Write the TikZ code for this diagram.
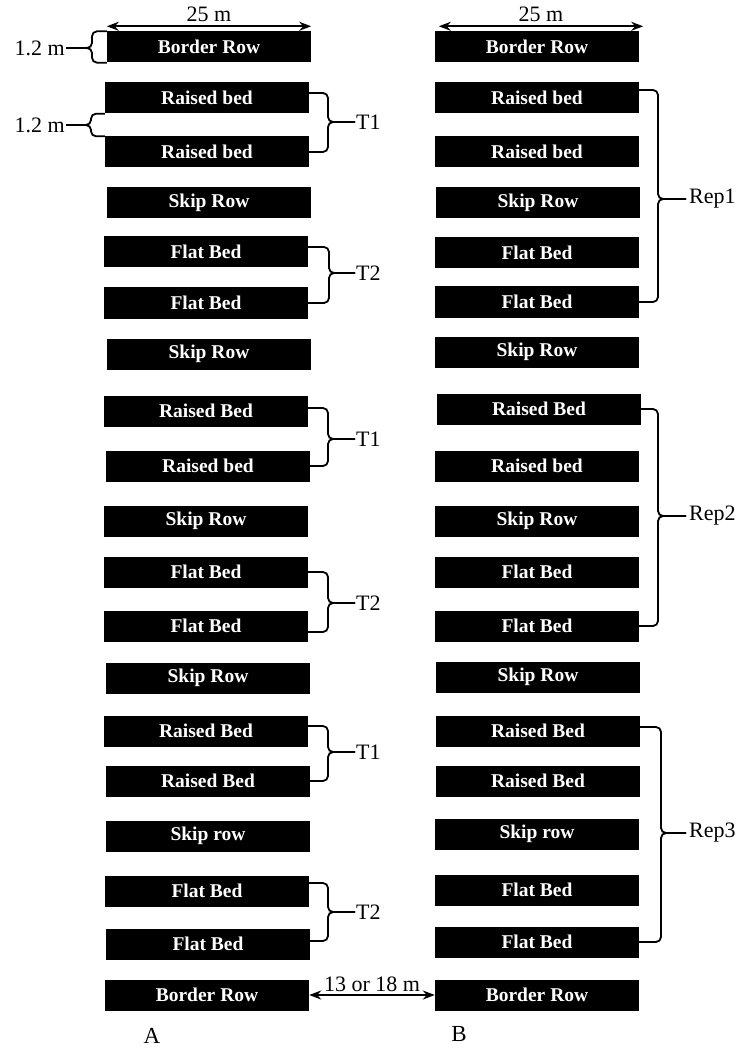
\documentclass[tikz,border=0pt]{standalone}
\usepackage{fontspec}
\setmainfont{Liberation Serif}
\usetikzlibrary{positioning,calc,arrows.meta}
\tikzset{
  row/.style ={rectangle, fill=black, text=white, minimum width=204pt, minimum height=31pt, inner sep=0pt, font=\fontsize{19.5}{22}\selectfont\bfseries},
  brc/.style ={draw=black, line width=1.8pt, rounded corners=5pt},
  dim/.style ={{Stealth[length=12pt,width=9pt]}-{Stealth[length=12pt,width=9pt]}, line width=1.8pt},
  lbl/.style ={font=\fontsize{22}{26}\selectfont, inner sep=1pt},
  side/.style={font=\fontsize{23}{27}\selectfont, inner sep=0pt},
}
\begin{document}
\begin{tikzpicture}[x=1pt,y=-1pt]
\useasboundingbox (0,0) rectangle (744,1048);
% layout A
\node[row] (l1)  at (209,47)  {Border Row};
\node[row] (l2)  at (207,98)  {Raised bed};
\node[row] (l3)  at (207,152) {Raised bed};
\node[row] (l4)  at (209,203) {Skip Row};
\node[row] (l5)  at (206,252) {Flat Bed};
\node[row] (l6)  at (206,303) {Flat Bed};
\node[row] (l7)  at (209,354) {Skip Row};
\node[row] (l8)  at (206,411) {Raised Bed};
\node[row] (l9)  at (208,466) {Raised bed};
\node[row] (l10) at (206,521) {Skip Row};
\node[row] (l11) at (206,572) {Flat Bed};
\node[row] (l12) at (206,626) {Flat Bed};
\node[row] (l13) at (208,678) {Skip Row};
\node[row] (l14) at (206,731) {Raised Bed};
\node[row] (l15) at (208,781) {Raised Bed};
\node[row] (l16) at (208,836) {Skip row};
\node[row] (l17) at (207,891) {Flat Bed};
\node[row] (l18) at (208,944) {Flat Bed};
\node[row] (l19) at (207,995) {Border Row};
% layout B
\node[row] (r1)  at (537,47)  {Border Row};
\node[row] (r2)  at (537,98)  {Raised bed};
\node[row] (r3)  at (537,152) {Raised bed};
\node[row] (r4)  at (538,203) {Skip Row};
\node[row] (r5)  at (537,253) {Flat Bed};
\node[row] (r6)  at (537,302) {Flat Bed};
\node[row] (r7)  at (537,352) {Skip Row};
\node[row] (r8)  at (539,409) {Raised Bed};
\node[row] (r9)  at (537,466) {Raised bed};
\node[row] (r10) at (537,521) {Skip Row};
\node[row] (r11) at (537,572) {Flat Bed};
\node[row] (r12) at (537,626) {Flat Bed};
\node[row] (r13) at (538,677) {Skip Row};
\node[row] (r14) at (538,731) {Raised Bed};
\node[row] (r15) at (538,781) {Raised Bed};
\node[row] (r16) at (537,834) {Skip row};
\node[row] (r17) at (537,890) {Flat Bed};
\node[row] (r18) at (537,942) {Flat Bed};
\node[row] (r19) at (537,995) {Border Row};
\node[side] (la) at (152,1036) {A};
\node[side] (lb) at (459,1034) {B};
% dimensions
\draw[dim] ([yshift=5pt]l1.north west) -- ([yshift=5pt]l1.north east) node[lbl, midway, above, inner sep=4pt] {25 m};
\draw[dim] ([xshift=4pt,yshift=5pt]r1.north west) -- ([xshift=4pt,yshift=5pt]r1.north east) node[lbl, midway, above, inner sep=4pt] {25 m};
\draw[dim] (l19.east) -- (r19.west) node[lbl, midway, above, inner sep=2pt] {13 or 18 m};
\node[lbl, anchor=east] (m1) at (66,48) {1.2 m};
\draw[brc] (l1.north west) -| ([xshift=26pt]m1.east) -- (m1.east);
\draw[brc] (l1.south west) -| ([xshift=26pt]m1.east) -- (m1.east);
\node[lbl, anchor=east] (m2) at (66,125) {1.2 m};
\draw[brc] (l2.south west) -| ([xshift=25pt]m2.east) -- (m2.east);
\draw[brc] (l3.north west) -| ([xshift=25pt]m2.east) -- (m2.east);
% treatment braces
\node[lbl, anchor=west] (t1a) at (355,122) {T1};
\node[lbl, anchor=west] (t2a) at (355,273) {T2};
\node[lbl, anchor=west] (t1b) at (355,439) {T1};
\node[lbl, anchor=west] (t2b) at (355,603) {T2};
\node[lbl, anchor=west] (t1c) at (355,752) {T1};
\node[lbl, anchor=west] (t2c) at (355,912) {T2};
\draw[brc] ([yshift=5pt]l2.east)  -| ([xshift=-27pt]t1a.west) -- (t1a.west);
\draw[brc] (l3.east)              -| ([xshift=-27pt]t1a.west) -- (t1a.west);
\draw[brc] ([yshift=5pt]l5.east)  -| ([xshift=-26pt]t2a.west) -- (t2a.west);
\draw[brc] (l6.east)              -| ([xshift=-26pt]t2a.west) -- (t2a.west);
\draw[brc] ([yshift=3pt]l8.east)  -| ([xshift=-27pt]t1b.west) -- (t1b.west);
\draw[brc] (l9.east)              -| ([xshift=-27pt]t1b.west) -- (t1b.west);
\draw[brc] (l11.east)             -| ([xshift=-27pt]t2b.west) -- (t2b.west);
\draw[brc] ([yshift=-6pt]l12.east) -| ([xshift=-27pt]t2b.west) -- (t2b.west);
\draw[brc] ([yshift=5pt]l14.east) -| ([xshift=-27pt]t1c.west) -- (t1c.west);
\draw[brc] (l15.east)             -| ([xshift=-27pt]t1c.west) -- (t1c.west);
\draw[brc] ([yshift=8pt]l17.east) -| ([xshift=-27pt]t2c.west) -- (t2c.west);
\draw[brc] ([yshift=3pt]l18.east) -| ([xshift=-27pt]t2c.west) -- (t2c.west);
% replicate braces
\node[lbl, anchor=west, inner sep=3pt] (rep1) at (686,199) {Rep1};
\node[lbl, anchor=west, inner sep=3pt] (rep2) at (686,516) {Rep2};
\node[lbl, anchor=west, inner sep=3pt] (rep3) at (686,833) {Rep3};
\draw[brc] ([yshift=8pt]r2.east)  -| ([xshift=-28pt]rep1.west) -- (rep1.west);
\draw[brc] (r6.east)              -| ([xshift=-28pt]rep1.west) -- (rep1.west);
\draw[brc] (r8.east)              -| ([xshift=-28pt]rep2.west) -- (rep2.west);
\draw[brc] (r12.east)             -| ([xshift=-28pt]rep2.west) -- (rep2.west);
\draw[brc] ([yshift=4pt]r14.east) -| ([xshift=-25pt]rep3.west) -- (rep3.west);
\draw[brc] (r18.east)             -| ([xshift=-25pt]rep3.west) -- (rep3.west);
\end{tikzpicture}
\end{document}
